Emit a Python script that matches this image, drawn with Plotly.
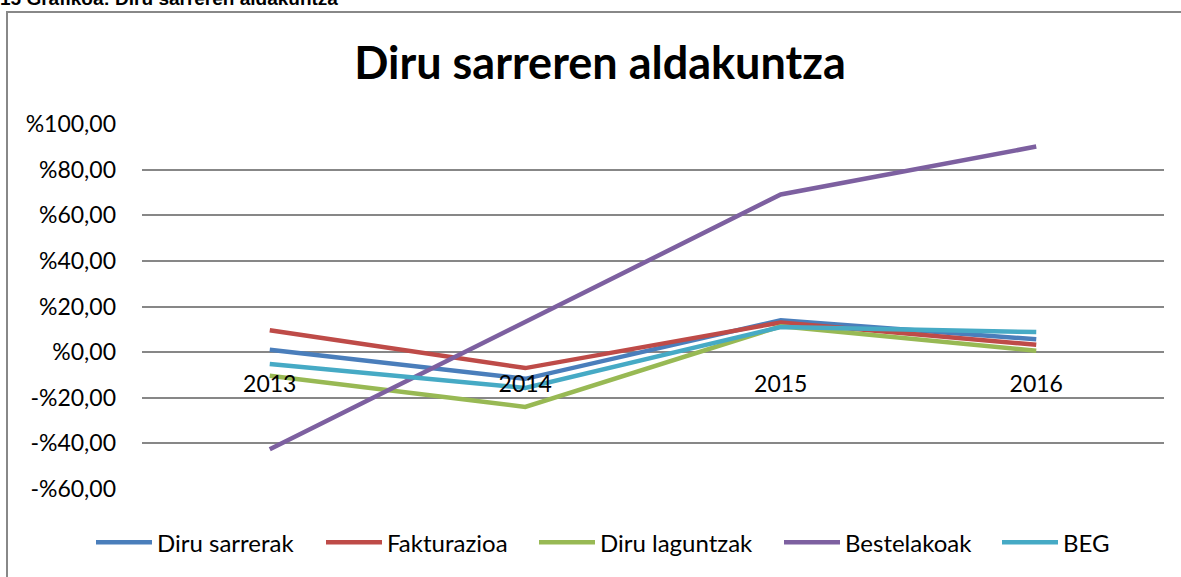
import plotly.graph_objects as go

years = ["2013", "2014", "2015", "2016"]
series_names = ["Diru sarrerak", "Fakturazioa", "Diru laguntzak", "Bestelakoak", "BEG"]
diru_sarrerak = [1.0, -11.7, 14.0, 5.6]
fakturazioa = [9.6, -7.0, 13.0, 3.2]
diru_laguntzak = [-10.4, -24.0, 11.3, 0.6]
bestelakoak = [-42.6, 13.5, 69.1, 90.1]
beg = [-5.2, -15.7, 11.0, 8.8]
y_tickvals = [100, 80, 60, 40, 20, 0, -20, -40, -60]
y_ticktext = ["%100,00", "%80,00", "%60,00", "%40,00", "%20,00", "%0,00", "-%20,00", "-%40,00", "-%60,00"]

colors = ["#4A7EBB", "#BE4B48", "#98B954", "#7D60A0", "#46AAC5"]
values = [diru_sarrerak, fakturazioa, diru_laguntzak, bestelakoak, beg]
legend_starts = [97, 327, 540, 785, 1003]  # pixel x where each legend entry begins

W, H = 1181, 577
ML, MR, MT, MB = 142, 17, 124, 85
PW, PH = W - ML - MR, H - MT - MB

def px_x(p):
    return (p - ML) / PW

def px_y(p):
    return (H - MB - p) / PH

FONT = "Lato"

fig = go.Figure()
legend_layout = {}
for i, (name, vals, col) in enumerate(zip(series_names, values, colors)):
    lg = "legend" if i == 0 else f"legend{i + 1}"
    fig.add_trace(go.Scatter(x=years, y=vals, name=name, mode="lines", legend=lg,
                             line=dict(color=col, width=4.5)))
    legend_layout[lg] = dict(orientation="h", x=px_x(legend_starts[i] - 6), xanchor="left",
                             y=px_y(546), yanchor="middle", itemwidth=56,
                             font=dict(family=FONT, size=24, color="black"),
                             bgcolor="rgba(0,0,0,0)")

fig.update_layout(
    width=W, height=H,
    margin=dict(l=ML, r=MR, t=MT, b=MB),
    paper_bgcolor="white", plot_bgcolor="white",
    font=dict(family=FONT, size=23, color="black"),
    title=dict(text="<b>Diru sarreren aldakuntza</b>", x=px_x(600), xref="paper",
               xanchor="center", y=1 - 63 / H, yanchor="middle",
               font=dict(family=FONT, size=45, color="black")),
    showlegend=True,
    xaxis=dict(type="category", range=[-0.5, 3.5], showgrid=False, showline=False,
               zeroline=False, ticks="", anchor="free", position=60 / 160,
               ticklabelstandoff=16, tickfont=dict(family=FONT, size=23, color="black")),
    yaxis=dict(range=[-60, 100], tickvals=y_tickvals, ticktext=y_ticktext,
               showgrid=True, gridcolor="#878787", gridwidth=1.5, zeroline=False,
               showline=False, ticks="", ticklabelstandoff=25,
               tickfont=dict(family=FONT, size=23, color="black")),
    **legend_layout,
)

# outer chart border (partly cropped in the reference)
fig.add_shape(type="rect", xref="paper", yref="paper",
              x0=px_x(7), x1=px_x(1195), y0=px_y(600), y1=px_y(11),
              line=dict(color="#888888", width=2), fillcolor="rgba(0,0,0,0)", layer="below")

# caption cropped at top of the image
fig.add_annotation(text="<b>15 Grafikoa: Diru sarreren aldakuntza</b>", xref="paper", yref="paper",
                   x=px_x(-2), xanchor="left", y=px_y(10), yanchor="bottom",
                   showarrow=False, font=dict(family="Liberation Sans", size=19, color="black"))

fig.write_html("out.html", config={"displayModeBar": False},
               post_script="document.body.style.margin='0';")
